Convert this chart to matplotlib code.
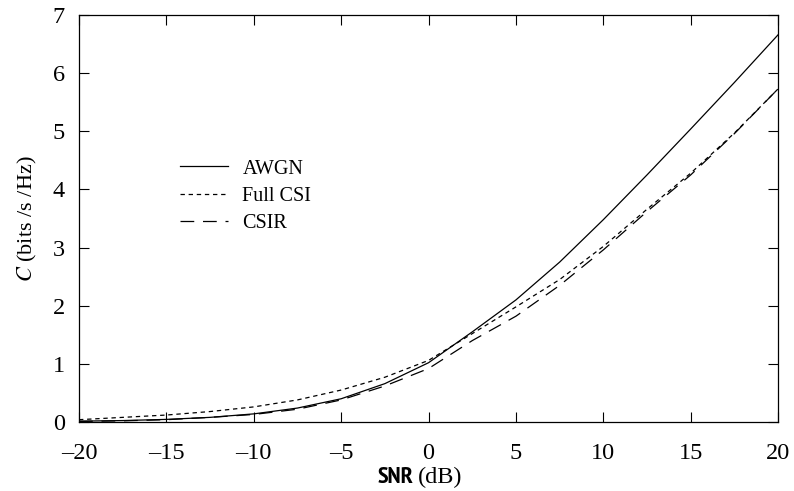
import matplotlib
matplotlib.use("Agg")
import matplotlib.pyplot as plt

# values (SNR in dB, capacity in bits/s/Hz)
snr_db = [-20, -17.5, -15, -12.5, -10, -7.5, -5, -2.5, 0, 2.5, 5, 7.5, 10, 12.5, 15, 17.5, 20]
awgn = [0.015, 0.025, 0.045, 0.08, 0.14, 0.24, 0.40, 0.66, 1.02, 1.55, 2.10, 2.75, 3.48, 4.25, 5.04, 5.84, 6.66]
full_csi = [0.04, 0.08, 0.12, 0.18, 0.26, 0.38, 0.55, 0.77, 1.06, 1.52, 1.98, 2.45, 3.02, 3.66, 4.28, 4.97, 5.73]
csir = [0.01, 0.02, 0.04, 0.08, 0.13, 0.22, 0.38, 0.62, 0.92, 1.40, 1.82, 2.35, 2.96, 3.62, 4.25, 4.96, 5.73]

xticks = [-20, -15, -10, -5, 0, 5, 10, 15, 20]
xticklabels = ["\u201320", "\u201315", "\u201310", "\u20135", "0", "5", "10", "15", "20"]
yticks = [0, 1, 2, 3, 4, 5, 6, 7]

plt.rcParams["font.family"] = "Liberation Serif"
plt.rcParams["mathtext.fontset"] = "stix"

fig = plt.figure(figsize=(7.94, 4.91), dpi=100)
ax = fig.add_axes([0.0995, 0.1405, 0.8805, 0.829])

ax.plot(snr_db, awgn, color="black", lw=0.9, label="AWGN")
ax.plot(snr_db, full_csi, color="black", lw=0.9, dashes=(3.5, 3), label="Full CSI")
ax.plot(snr_db, csir, color="black", lw=0.9, dashes=(11, 7), label="CSIR")

ax.set_xlim(-20, 20)
ax.set_ylim(0, 7)
ax.set_xticks(xticks)
ax.set_xticklabels(xticklabels)
ax.set_yticks(yticks)
ax.tick_params(direction="in", length=7, width=0.8, top=True, right=True,
               labelsize=17.5, pad=10)
ax.tick_params(axis="x", pad=15)
for s in ax.spines.values():
    s.set_linewidth(0.9)

# y label: italic C + serif units
ax.set_ylabel(r"$C$ (bits /s /Hz)", fontsize=16, labelpad=10)

# x label: "SNR" in narrow sans, "(dB)" in serif
fig.text(0.521, 0.006, "SNR", fontsize=17.5, ha="right", va="bottom",
         family="PT Sans Narrow", weight="bold")
fig.text(0.526, 0.006, "(dB)", fontsize=17.5, ha="left", va="bottom")

leg = ax.legend(loc="center left", bbox_to_anchor=(0.13, 0.555), frameon=False,
                fontsize=14.5, handlelength=2.4, handletextpad=0.7,
                labelspacing=0.4, borderpad=0)

fig.savefig("out.png", dpi=100)
